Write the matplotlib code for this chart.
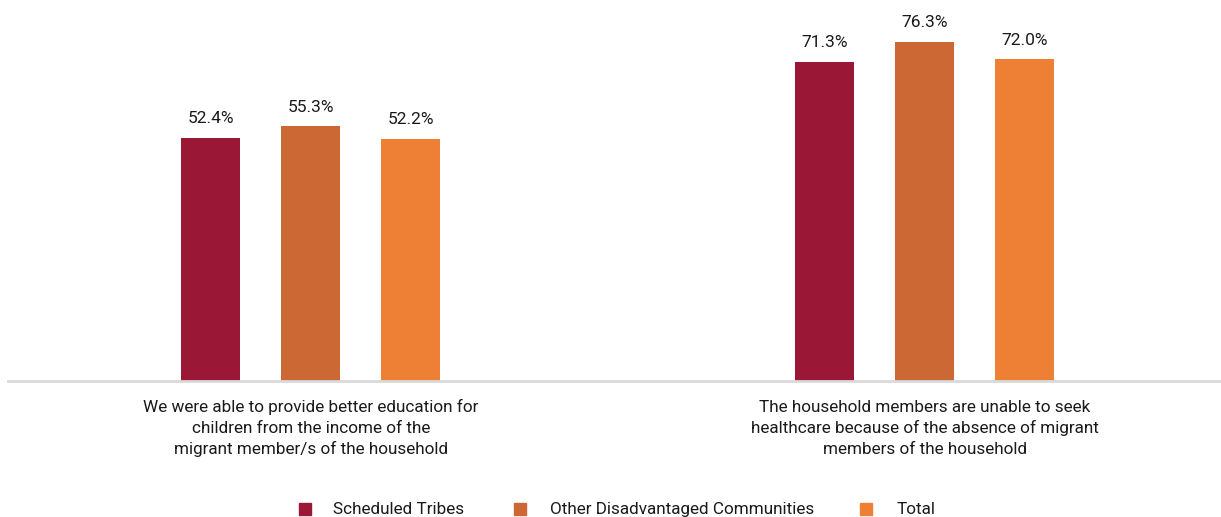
import matplotlib
matplotlib.use("Agg")
import matplotlib.pyplot as plt
from matplotlib.patches import Rectangle

plt.rcParams['font.family'] = ['Roboto', 'DejaVu Sans']

categories = [
    "We were able to provide better education for\nchildren from the income of the\nmigrant member/s of the household",
    "The household members are unable to seek\nhealthcare because of the absence of migrant\nmembers of the household",
]
series_names = ["Scheduled Tribes", "Other Disadvantaged Communities", "Total"]
scheduled_tribes = [52.4, 71.3]
other_disadvantaged = [55.3, 76.3]
total = [52.2, 72.0]
colors = ["#9B1736", "#CC6833", "#EE8035"]

W, H = 1221, 517
fig = plt.figure(figsize=(W / 100, H / 100), dpi=100)
ax_left, ax_right = 8 / W, 1.0
ax_bottom, ax_top = 1 - 381 / H, 1 - 5 / H
ax = fig.add_axes([ax_left, ax_bottom, ax_right - ax_left, ax_top - ax_bottom])

ymin, ymax = -8.1, 85.5
ax.set_ylim(ymin, ymax)
ax.set_xlim(-0.4935, 1.483)

width = 0.096
offsets = [-0.163, 0.0, 0.163]
all_series = [scheduled_tribes, other_disadvantaged, total]
for vals, col, off in zip(all_series, colors, offsets):
    xs = [i + off for i in range(len(categories))]
    heights = [v - ymin for v in vals]
    ax.bar(xs, heights, width=width, bottom=ymin, color=col, zorder=2)
    for x, v in zip(xs, vals):
        ax.annotate(f"{v:.1f}%", (x, v), xytext=(0, 10.5), textcoords="offset points",
                    ha="center", va="baseline", fontsize=12.5, color="#1a1a1a")

for sp in ["top", "right", "left"]:
    ax.spines[sp].set_visible(False)
ax.spines["bottom"].set_color("#D9D9D9")
ax.spines["bottom"].set_linewidth(2)
ax.set_yticks([])
ax.set_xticks(range(len(categories)))
ax.set_xticklabels([""] * len(categories))
ax.tick_params(axis="x", length=0)

# category labels, one evenly spaced line at a time
line_gap_pt = 15.1
for i, label in enumerate(categories):
    for j, line in enumerate(label.split("\n")):
        ax.annotate(line, xy=(i, 0), xycoords=("data", "axes fraction"),
                    xytext=(0, -22.5 - j * line_gap_pt), textcoords="offset points",
                    ha="center", va="baseline", fontsize=12.3, color="#1a1a1a",
                    annotation_clip=False)

# legend along the bottom edge
legend_items = [(299, 333), (514, 550), (860, 897)]
for (mx, tx), name, col in zip(legend_items, series_names, colors):
    fig.patches.append(Rectangle((mx / W, 1 - 515 / H), 12 / W, 12 / H,
                                 transform=fig.transFigure, color=col))
    fig.text(tx / W, 1 - 514 / H, name, ha="left", va="baseline", fontsize=12.3, color="#1a1a1a")

fig.savefig("out.png", dpi=100)
